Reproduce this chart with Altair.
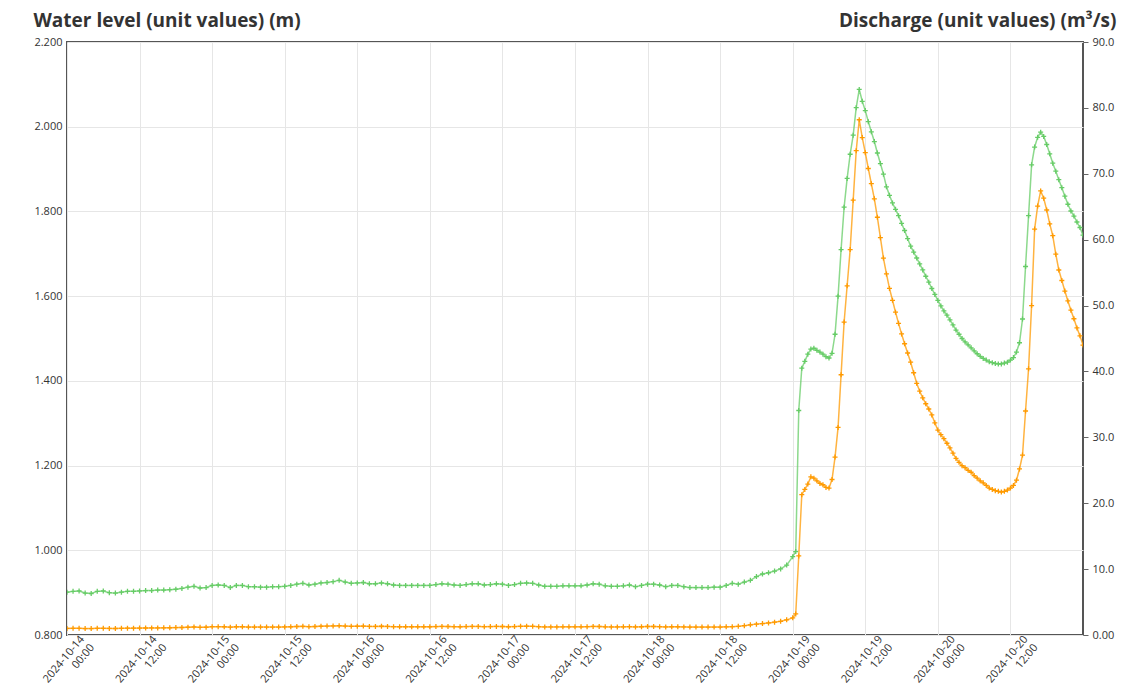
import altair as alt
import pandas as pd

# ---- data ----
# Part A: hourly values 2024-10-14 00:00 .. 2024-10-18 23:00
start_a = "2024-10-14T00:00:00Z"
level_a = [
    0.901, 0.903, 0.904, 0.899, 0.898, 0.903, 0.904, 0.900, 0.899, 0.901, 0.903, 0.903,
    0.904, 0.905, 0.905, 0.906, 0.906, 0.907, 0.908, 0.910, 0.913, 0.915, 0.911, 0.912,
    0.917, 0.918, 0.917, 0.912, 0.917, 0.917, 0.914, 0.914, 0.913, 0.913, 0.914, 0.914,
    0.915, 0.917, 0.920, 0.922, 0.918, 0.920, 0.923, 0.924, 0.926, 0.929, 0.925, 0.922,
    0.923, 0.924, 0.921, 0.921, 0.923, 0.921, 0.918, 0.917, 0.917, 0.917, 0.917, 0.917,
    0.917, 0.919, 0.921, 0.920, 0.918, 0.917, 0.919, 0.921, 0.921, 0.918, 0.919, 0.921,
    0.920, 0.917, 0.919, 0.922, 0.923, 0.922, 0.918, 0.915, 0.915, 0.915, 0.916, 0.916,
    0.916, 0.916, 0.918, 0.921, 0.920, 0.916, 0.915, 0.915, 0.916, 0.918, 0.914, 0.917,
    0.920, 0.920, 0.918, 0.914, 0.917, 0.917, 0.914, 0.912, 0.912, 0.912, 0.912, 0.913,
    0.913, 0.917, 0.922, 0.920, 0.925, 0.929, 0.938, 0.944, 0.947, 0.951, 0.956, 0.965,
]
flow_a = [
    1.00, 1.01, 1.02, 0.98, 0.97, 1.01, 1.02, 1.00, 0.99, 1.01, 1.03, 1.04,
    1.05, 1.06, 1.07, 1.08, 1.09, 1.10, 1.12, 1.14, 1.18, 1.22, 1.17, 1.18,
    1.26, 1.27, 1.25, 1.19, 1.25, 1.25, 1.21, 1.21, 1.20, 1.20, 1.21, 1.21,
    1.22, 1.25, 1.29, 1.32, 1.27, 1.29, 1.33, 1.35, 1.38, 1.42, 1.36, 1.32,
    1.33, 1.35, 1.30, 1.30, 1.33, 1.30, 1.27, 1.25, 1.25, 1.25, 1.25, 1.25,
    1.25, 1.28, 1.30, 1.29, 1.27, 1.25, 1.28, 1.30, 1.30, 1.27, 1.28, 1.30,
    1.29, 1.25, 1.28, 1.31, 1.33, 1.31, 1.27, 1.23, 1.23, 1.23, 1.24, 1.24,
    1.24, 1.24, 1.27, 1.30, 1.29, 1.24, 1.23, 1.23, 1.24, 1.27, 1.22, 1.25,
    1.29, 1.29, 1.27, 1.22, 1.25, 1.25, 1.22, 1.20, 1.20, 1.20, 1.20, 1.21,
    1.21, 1.24, 1.27, 1.32, 1.42, 1.55, 1.65, 1.74, 1.83, 1.95, 2.08, 2.30,
]

# Part B: half-hourly values 2024-10-19 00:00 .. 2024-10-21 00:00
start_b = "2024-10-19T00:00:00Z"
level_b = [
    0.985, 0.997, 1.330, 1.430, 1.446, 1.463, 1.475, 1.477, 1.472, 1.468,
    1.463, 1.457, 1.454, 1.465, 1.510, 1.600, 1.710, 1.810, 1.878, 1.935,
    1.980, 2.045, 2.088, 2.060, 2.038, 2.012, 1.988, 1.965, 1.938, 1.913,
    1.888, 1.858, 1.838, 1.820, 1.805, 1.790, 1.772, 1.755, 1.736, 1.718,
    1.704, 1.690, 1.676, 1.662, 1.647, 1.633, 1.618, 1.604, 1.590, 1.577,
    1.565, 1.555, 1.544, 1.532, 1.520, 1.510, 1.500, 1.492, 1.485, 1.478,
    1.471, 1.464, 1.458, 1.453, 1.449, 1.445, 1.443, 1.441, 1.440, 1.440,
    1.442, 1.444, 1.449, 1.455, 1.468, 1.490, 1.546, 1.670, 1.790, 1.910,
    1.952, 1.975, 1.987, 1.977, 1.958, 1.936, 1.914, 1.895, 1.875, 1.856,
    1.836, 1.817, 1.801, 1.789, 1.775, 1.762, 1.744,
]
flow_b = [
    2.6, 3.2, 12.0, 21.3, 22.1, 22.9, 24.0, 23.8, 23.4, 23.0,
    22.8, 22.4, 22.3, 23.6, 27.0, 31.5, 39.5, 47.5, 53.0, 58.5,
    66.0, 73.5, 78.2, 75.5, 73.2, 70.8, 68.5, 66.2, 63.4, 60.3,
    57.2, 54.8, 52.6, 50.8, 49.0, 47.3, 45.7, 44.2, 42.8, 41.4,
    39.8, 38.2, 37.0, 36.0, 35.1, 34.3, 33.4, 32.2, 31.1, 30.4,
    29.8, 29.1, 28.4, 27.6, 26.8, 26.2, 25.7, 25.4, 25.0, 24.7,
    24.2, 23.8, 23.4, 23.1, 22.7, 22.3, 22.1, 21.9, 21.8, 21.7,
    21.8, 22.0, 22.3, 22.7, 23.5, 25.2, 27.3, 34.0, 40.4, 50.0,
    61.6, 65.1, 67.4, 66.3, 64.5, 62.4, 60.6, 57.8, 55.4, 53.8,
    52.2, 50.7, 49.3, 48.0, 46.6, 45.4, 44.0,
]

x_ticks = [
    "2024-10-14T00:00:00Z", "2024-10-14T12:00:00Z", "2024-10-15T00:00:00Z",
    "2024-10-15T12:00:00Z", "2024-10-16T00:00:00Z", "2024-10-16T12:00:00Z",
    "2024-10-17T00:00:00Z", "2024-10-17T12:00:00Z", "2024-10-18T00:00:00Z",
    "2024-10-18T12:00:00Z", "2024-10-19T00:00:00Z", "2024-10-19T12:00:00Z",
    "2024-10-20T00:00:00Z", "2024-10-20T12:00:00Z",
]
x_domain = ["2024-10-14T00:00:00Z", "2024-10-21T00:00:00Z"]
level_ticks = [0.8, 1.0, 1.2, 1.4, 1.6, 1.8, 2.0, 2.2]
flow_ticks = [0, 10, 20, 30, 40, 50, 60, 70, 80, 90]

title_left = "Water level (unit values) (m)"
title_right = "Discharge (unit values) (m³/s)"

# ---- build table ----
t_a = pd.date_range(start_a, periods=len(level_a), freq="1h")
t_b = pd.date_range(start_b, periods=len(level_b), freq="30min")
times = [t.strftime("%Y-%m-%dT%H:%M:%SZ") for t in list(t_a) + list(t_b)]
df = pd.DataFrame({
    "time": times,
    "level": level_a + level_b,
    "flow": flow_a + flow_b,
})

def ms(s):
    return int(pd.Timestamp(s).value // 10**6)

GREEN = "#66cc66"
ORANGE = "#ff9a00"
FONT = "Open Sans"
cross = "M-1,0H1M0,-1V1"

x_enc = alt.X(
    "time:T",
    scale=alt.Scale(type="utc", domain=[ms(d) for d in x_domain], nice=False),
    axis=alt.Axis(
        values=[ms(v) for v in x_ticks],
        labelExpr="[utcFormat(datum.value, '%Y-%m-%d'), utcFormat(datum.value, '%H:%M')]",
        labelAngle=-50, labelAlign="right", labelBaseline="middle",
        labelOffset=15, labelPadding=2,
        labelFontSize=11, labelColor="#333333", labelFont=FONT,
        grid=True, gridColor="#e6e6e6", ticks=False, domain=False,
        title=None, labelOverlap=False, labelFlush=False,
    ),
)

base = alt.Chart(df)

level_line = base.mark_line(
    color=GREEN, strokeWidth=1.5, opacity=0.75, clip=True,
    point=alt.OverlayMarkDef(shape=cross, size=25, filled=False, stroke=GREEN,
                             strokeWidth=1.3, opacity=1),
).encode(
    x=x_enc,
    y=alt.Y(
        "level:Q",
        scale=alt.Scale(domain=[0.8, 2.2], nice=False, zero=False),
        axis=alt.Axis(
            values=level_ticks, format=".3f", grid=True, gridColor="#e6e6e6",
            ticks=False, domain=False, labelFontSize=11, labelColor="#333333",
            labelFont=FONT, labelPadding=5,
            title=title_left, titleAngle=0, titleAlign="left", titleBaseline="alphabetic",
            titleX=-34, titleY=-16, titleFont=FONT, titleFontSize=19,
            titleFontWeight="bold", titleColor="#333333",
        ),
    ),
)

flow_line = base.mark_line(
    color=ORANGE, strokeWidth=1.5, opacity=0.75, clip=True,
    point=alt.OverlayMarkDef(shape=cross, size=25, filled=False, stroke=ORANGE,
                             strokeWidth=1.3, opacity=1),
).encode(
    x=alt.X("time:T"),
    y=alt.Y(
        "flow:Q",
        scale=alt.Scale(domain=[0, 90], nice=False),
        axis=alt.Axis(
            orient="right", values=flow_ticks,
            labelExpr="datum.value == 0 ? '0.00' : format(datum.value, '.1f')",
            grid=False, ticks=True, tickSize=5, tickColor="#666666", domain=False,
            labelFontSize=11, labelColor="#333333", labelFont=FONT, labelPadding=4,
            title=title_right, titleAngle=0, titleAlign="right", titleBaseline="alphabetic",
            titleX=33, titleY=-16, titleFont=FONT, titleFontSize=19,
            titleFontWeight="bold", titleColor="#333333",
        ),
    ),
)

chart = alt.layer(level_line, flow_line).resolve_scale(y="independent").properties(
    width=1016,
    height=593,
    autosize=alt.AutoSizeParams(type="none"),
    padding={"left": 59, "top": 34, "right": 45, "bottom": 50},
).configure_view(
    stroke="#555555", strokeWidth=2,
)

chart.save("out.html", embed_options={"renderer": "svg", "actions": False})
